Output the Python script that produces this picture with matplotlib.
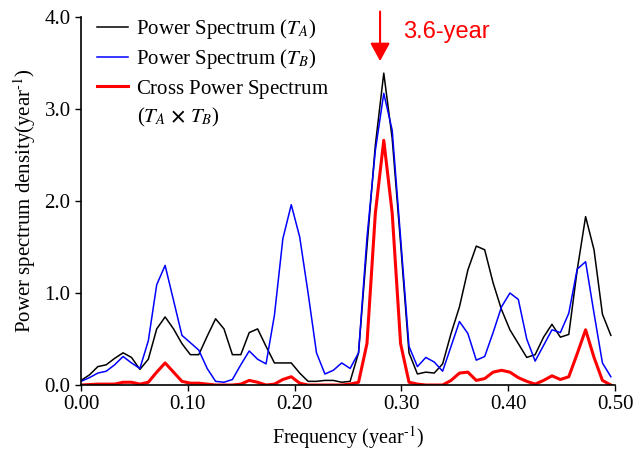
import matplotlib
matplotlib.use("Agg")
import matplotlib.pyplot as plt
import numpy as np

plt.rcParams["font.family"] = ["Liberation Serif", "DejaVu Serif"]
plt.rcParams["mathtext.fontset"] = "stix"

# spectrum values, one per frequency bin k/127
power_a = [0.05, 0.11, 0.20, 0.22, 0.29, 0.35, 0.30, 0.17, 0.28, 0.61,
           0.74, 0.61, 0.45, 0.33, 0.33, 0.53, 0.72, 0.61, 0.33, 0.33,
           0.57, 0.61, 0.42, 0.24, 0.24, 0.24, 0.13, 0.04, 0.04, 0.05,
           0.05, 0.03, 0.04, 0.35, 1.50, 2.61, 3.39, 2.68, 1.54, 0.35,
           0.12, 0.14, 0.13, 0.23, 0.56, 0.85, 1.25, 1.51, 1.47, 1.11,
           0.82, 0.60, 0.45, 0.30, 0.33, 0.52, 0.66, 0.52, 0.55, 1.25,
           1.83, 1.47, 0.77, 0.54]
power_b = [0.04, 0.08, 0.13, 0.15, 0.22, 0.31, 0.24, 0.18, 0.48, 1.09,
           1.30, 0.92, 0.54, 0.46, 0.38, 0.18, 0.04, 0.03, 0.06, 0.22,
           0.37, 0.28, 0.23, 0.76, 1.59, 1.96, 1.61, 1.00, 0.35, 0.12,
           0.16, 0.24, 0.18, 0.35, 1.60, 2.55, 3.17, 2.77, 1.60, 0.42,
           0.20, 0.30, 0.25, 0.15, 0.42, 0.69, 0.56, 0.27, 0.31, 0.57,
           0.85, 1.00, 0.93, 0.50, 0.26, 0.43, 0.60, 0.57, 0.78, 1.26,
           1.34, 0.78, 0.24, 0.09]
cross_ab = [0.00, 0.005, 0.01, 0.01, 0.01, 0.03, 0.03, 0.01, 0.03, 0.14,
            0.24, 0.14, 0.04, 0.02, 0.02, 0.01, 0.00, 0.00, 0.00, 0.01,
            0.05, 0.03, 0.00, 0.01, 0.06, 0.09, 0.02, 0.00, 0.00, 0.00,
            0.00, 0.00, 0.01, 0.03, 0.45, 1.87, 2.66, 1.87, 0.45, 0.03,
            0.01, 0.00, 0.00, 0.00, 0.05, 0.13, 0.14, 0.05, 0.07, 0.14,
            0.16, 0.14, 0.08, 0.04, 0.01, 0.05, 0.10, 0.06, 0.09, 0.34,
            0.60, 0.30, 0.05, 0.00]
freq = np.arange(len(power_a)) / 127

fig = plt.figure(figsize=(6.4, 4.57), dpi=100)
ax = fig.add_axes([0.1266, 0.1575, 0.8344, 0.8053])

ax.plot(freq, power_a, color="black", lw=1.1, label=r"Power Spectrum ($T_A$)")
ax.plot(freq, power_b, color="#0000ff", lw=1.1, label=r"Power Spectrum ($T_B$)")
ax.plot(freq, cross_ab, color="#ff0000", lw=2.2,
        label=r"Cross Power Spectrum$\mathregular{\,}$")

ax.set_xlim(0, 0.5)
ax.set_ylim(0, 4.0)
ax.set_xticks(np.arange(0, 0.51, 0.1))
ax.set_xticklabels([f"{v:.2f}" for v in np.arange(0, 0.51, 0.1)])
ax.set_yticks(np.arange(0, 4.1, 1.0))
ax.set_yticklabels([f"{v:.1f}" for v in np.arange(0, 4.1, 1.0)])
ax.tick_params(direction="out", length=4, width=1, labelsize=15)
ax.spines["top"].set_visible(False)
ax.spines["right"].set_visible(False)
for s in ("left", "bottom"):
    ax.spines[s].set_linewidth(1.2)

ax.set_xlabel(r"Frequency (year$^{\text{-1}}$)", fontsize=14.5, labelpad=7)
ax.set_ylabel(r"Power spectrum density(year$^{\text{-1}}$)", fontsize=15, labelpad=5)

# 3.6-year marker
ax.annotate("", xy=(0.280, 3.49), xytext=(0.280, 4.09),
            arrowprops=dict(arrowstyle="-|>,head_length=0.55,head_width=0.3",
                            color="#ff0000", lw=1.5, mutation_scale=20),
            annotation_clip=False)
ax.text(0.3015, 3.77, "3.6-year", color="#ff0000", fontsize=17,
        family="Liberation Sans", va="baseline")

ax.legend(loc="upper left", bbox_to_anchor=(0.03, 1.0), frameon=False,
          fontsize=15, handlelength=1.5, handletextpad=0.38,
          labelspacing=0.3, borderpad=0, borderaxespad=0)
# second line of the cross-spectrum legend entry
ax.text(0.1049, 0.728, r"($T_A\ \mathbf{\times}\ T_B$)", transform=ax.transAxes,
        fontsize=15, va="center", ha="left")

fig.savefig("out.png", dpi=100)
